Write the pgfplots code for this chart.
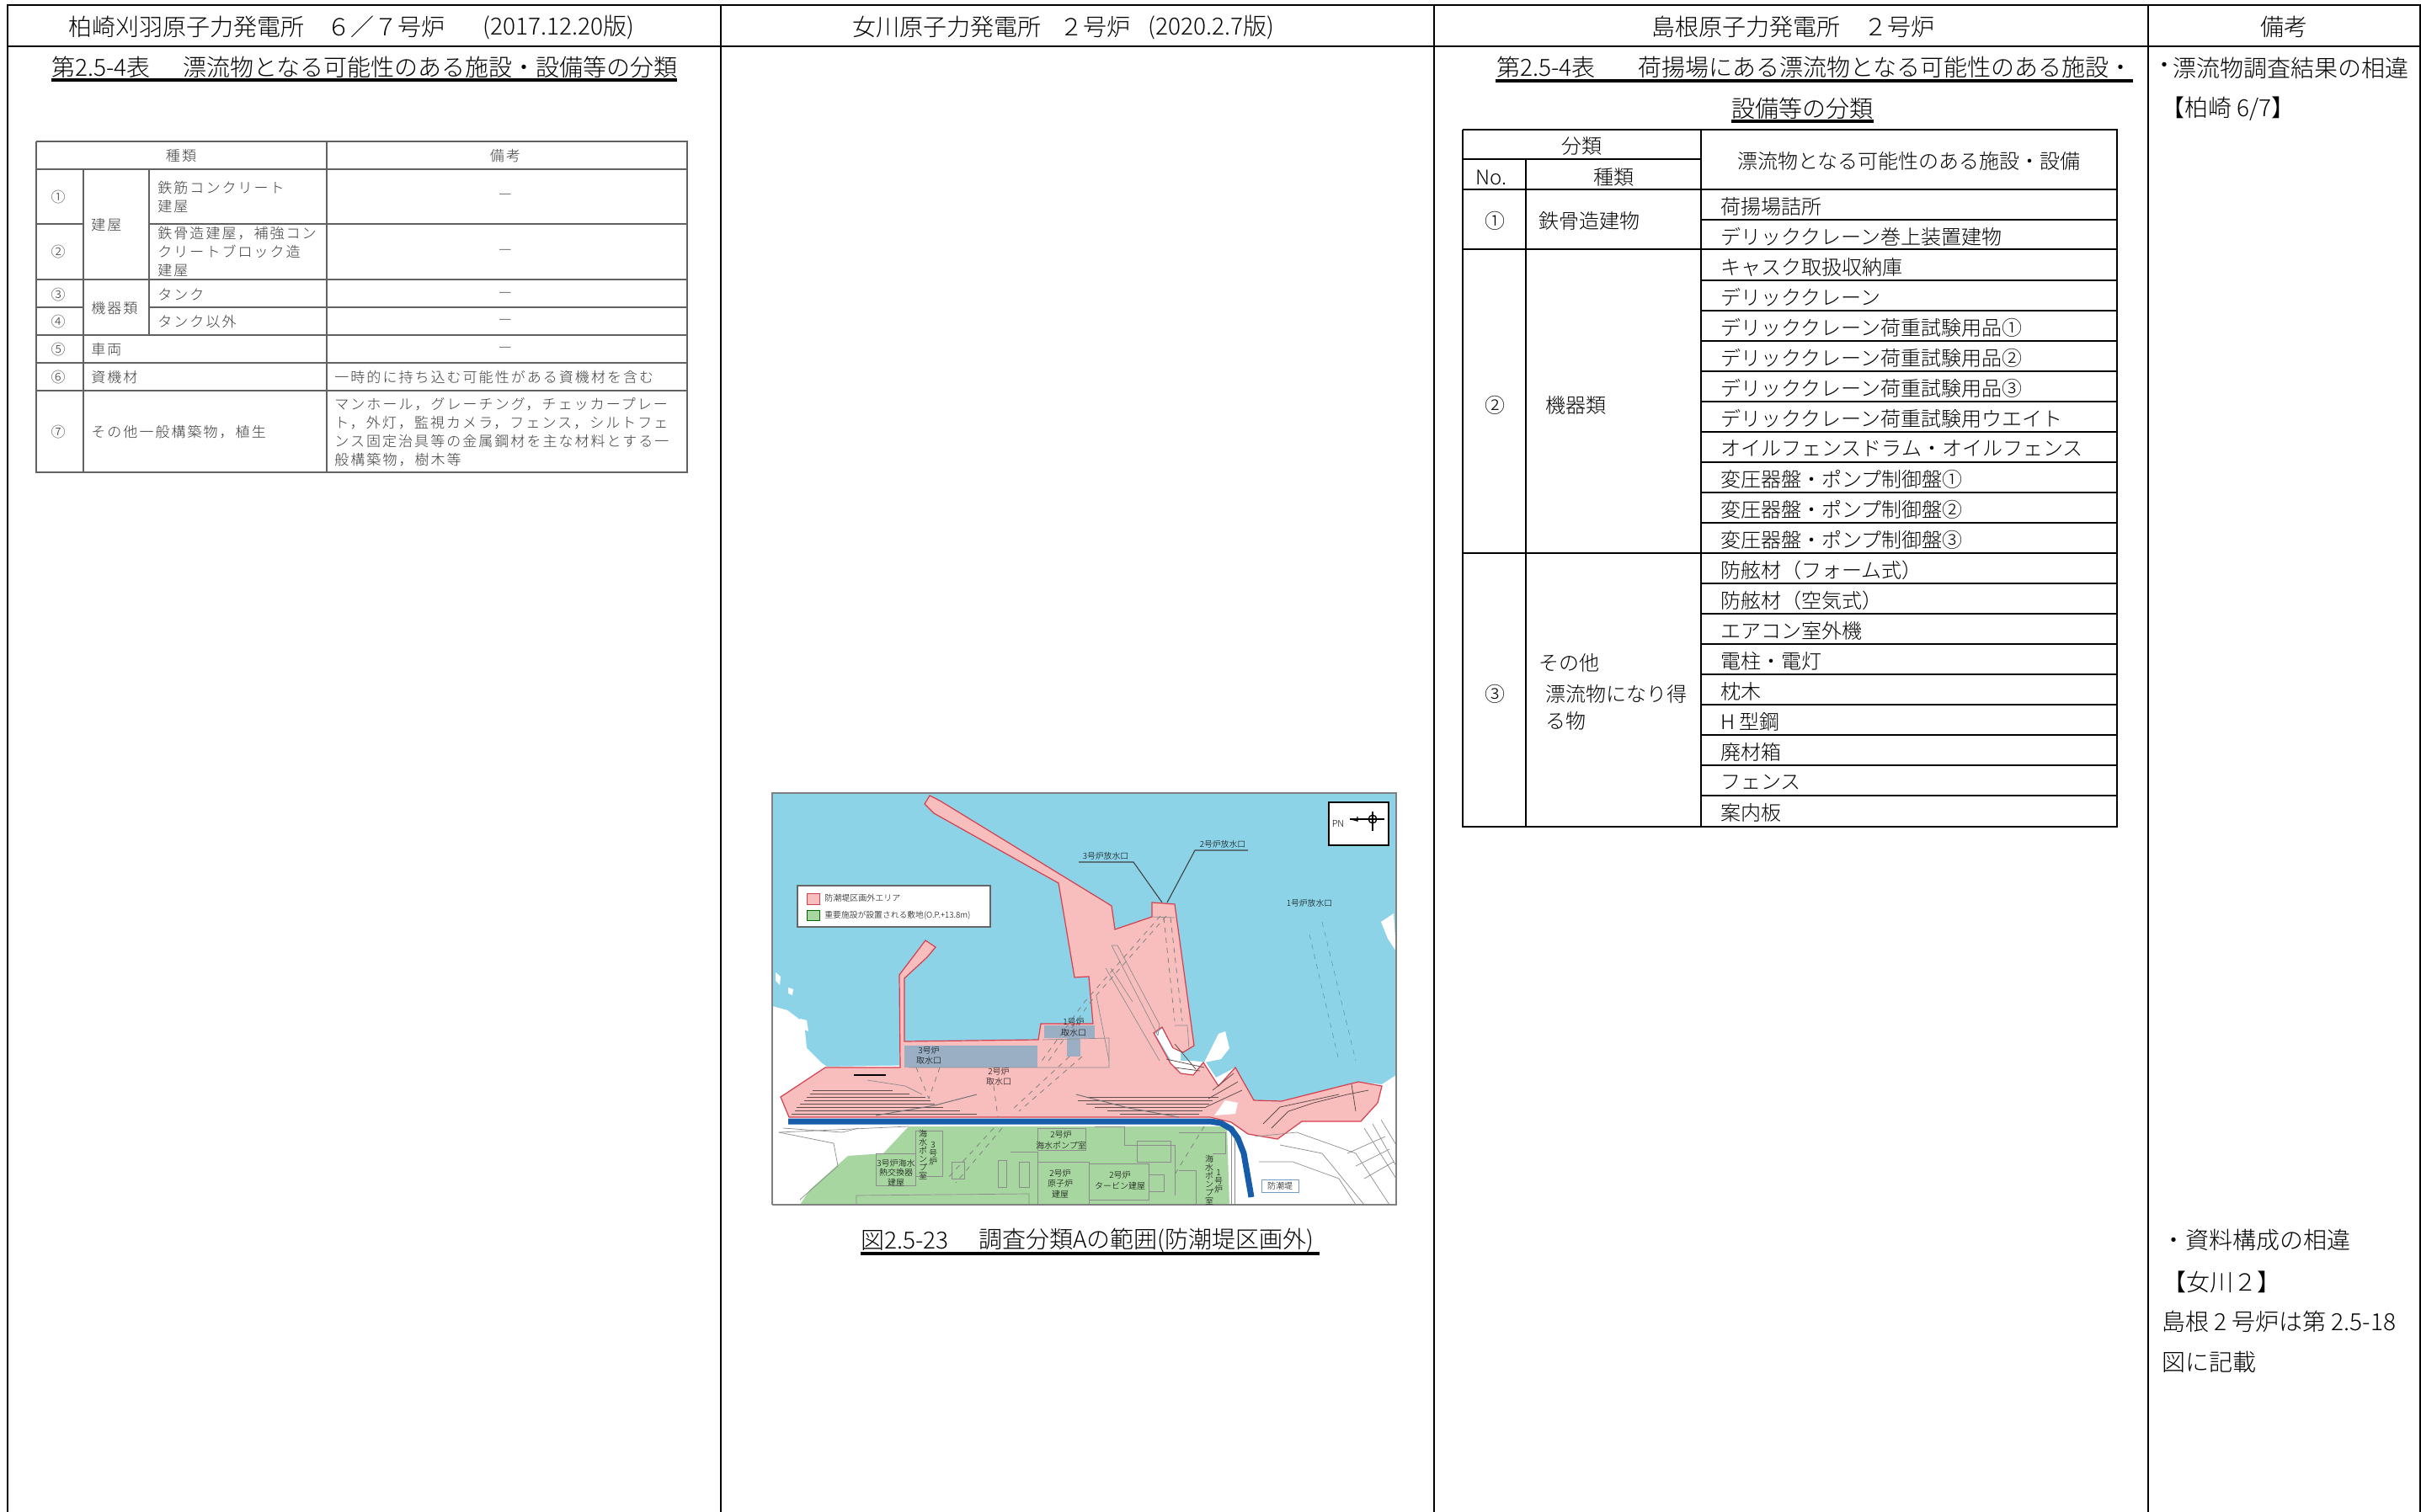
\documentclass[border=0pt]{standalone}
\usepackage{fontspec}
\setmainfont{Noto Sans CJK JP Light}
\newfontfamily\lsfont[LetterSpace=12]{Noto Sans CJK JP Light}
\usepackage{pgfplots}
\pgfplotsset{compat=1.18}
\definecolor{sea}{RGB}{141,211,232}
\definecolor{pinkf}{RGB}{248,190,190}
\definecolor{pinke}{RGB}{214,62,76}
\definecolor{greenf}{RGB}{167,214,160}
\definecolor{intake}{RGB}{154,175,196}
\definecolor{wall}{RGB}{22,92,168}
\definecolor{tg}{RGB}{60,60,60}
\newcommand\Line[2]{\addplot[#1] coordinates {#2};}
\newcommand\Poly[2]{\addplot[#1] coordinates {#2} --cycle;}
\newcommand\Tx[5]{\node[anchor=#1,inner sep=0pt] at (axis cs:#2,#3) {\fontsize{#4}{#4}\selectfont #5};}
\newcommand\Ts[4]{\node[anchor=#1,inner sep=0pt,text=tg] at (axis cs:#2,#3) {\fontsize{8.5}{8.5}\lsfont #4};}
\newcommand\Tm[5]{\node[anchor=center,inner sep=0pt,align=center,text=#4] at (axis cs:#1,#2) {\fontsize{#3}{#3}\selectfont #5};}
\begin{document}
\begin{tikzpicture}
\begin{axis}[scale only axis,width=1437.5pt,height=898pt,xmin=0,xmax=2875,ymin=0,ymax=1796,y dir=reverse,hide axis,
 unbounded coords=jump,
 blk/.style={black,line width=1.15pt},
 ul/.style={black,line width=1.6pt},
 tb/.style={black,line width=1.4pt},
 lt/.style={black!62,line width=1pt},
 gl/.style={black!45,line width=.35pt},
 dsh/.style={black!50,line width=.4pt,dashed},
 ht/.style={black!60!pinkf,line width=.4pt}]
\Poly{fill=white,draw=none}{(0,0)(2875,0)(2875,1796)(0,1796)}
% page frame
\Line{blk}{(9,1796)(9,6)(2874,6)(2874,1796)}
\Line{blk}{(9,55)(2874,55)}
\Line{blk}{(856,6)(856,1796)}
\Line{blk}{(1703,6)(1703,1796)}
\Line{blk}{(2551,6)(2551,1796)}
% headers
\Tx{west}{81}{32}{14}{柏崎刈羽原子力発電所}
\Tx{west}{388}{32}{14}{６／７号炉}
\Tx{west}{573}{32}{14}{(2017.12.20版)}
\Tx{west}{1012}{32}{14}{女川原子力発電所}
\Tx{west}{1258}{32}{14}{２号炉}
\Tx{west}{1363}{32}{14}{(2020.2.7版)}
\Tx{west}{1961}{32}{14}{島根原子力発電所}
\Tx{west}{2213}{32}{14}{２号炉}
\Tx{center}{2712}{32}{14}{備考}
% left title
\Tx{west}{61}{80}{14}{第2.5-4表}
\Tx{west}{217}{80}{14}{漂流物となる可能性のある施設・設備等の分類}
\Line{ul}{(61,95)(804,95)}
% left table
\Line{lt}{(43,168)(816,168)(816,561)(43,561)(43,168)}
\Line{lt}{(43,201)(816,201)}
\Line{lt}{(43,266)(99,266)}
\Line{lt}{(177,266)(816,266)}
\Line{lt}{(43,332)(816,332)}
\Line{lt}{(43,365)(99,365)}
\Line{lt}{(177,365)(816,365)}
\Line{lt}{(43,398)(816,398)}
\Line{lt}{(43,431)(816,431)}
\Line{lt}{(43,464)(816,464)}
\Line{lt}{(99,201)(99,561)}
\Line{lt}{(177,201)(177,398)}
\Line{lt}{(388,168)(388,561)}
\Ts{center}{215}{185}{種類}
\Ts{center}{600}{185}{備考}
\Ts{center}{69}{234}{①}
\Ts{center}{69}{299}{②}
\Ts{center}{69}{350}{③}
\Ts{center}{69}{382}{④}
\Ts{center}{69}{415}{⑤}
\Ts{center}{69}{448}{⑥}
\Ts{center}{69}{513}{⑦}
\Ts{west}{108}{267}{建屋}
\Ts{west}{108}{366}{機器類}
\Ts{west}{108}{415}{車両}
\Ts{west}{108}{448}{資機材}
\Ts{west}{108}{513}{その他一般構築物，植生}
\Ts{west}{187}{223}{鉄筋コンクリート}
\Ts{west}{187}{245}{建屋}
\Ts{west}{187}{277}{鉄骨造建屋，補強コン}
\Ts{west}{187}{299}{クリートブロック造}
\Ts{west}{187}{321}{建屋}
\Ts{west}{187}{350}{タンク}
\Ts{west}{187}{382}{タンク以外}
\Ts{center}{600}{233}{—}
\Ts{center}{600}{299}{—}
\Ts{center}{600}{350}{—}
\Ts{center}{600}{382}{—}
\Ts{center}{600}{415}{—}
\Ts{west}{397}{448}{一時的に持ち込む可能性がある資機材を含む}
\Ts{west}{397}{480}{マンホール，グレーチング，チェッカープレー}
\Ts{west}{397}{502}{ト，外灯，監視カメラ，フェンス，シルトフェ}
\Ts{west}{397}{524}{ンス固定治具等の金属鋼材を主な材料とする一}
\Ts{west}{397}{546}{般構築物，樹木等}
% map: sea and land
\Poly{fill=sea,draw=none}{(917,942)(1658,942)(1658,1431)(917,1431)}
\Poly{fill=white,draw=none}{(917,1195)(935,1200)(955,1215)(958,1245)(975,1262)(982,1267)(1417,1260)(1432,1262)(1444,1280)(1467,1268)(1489,1307)(1522,1308)(1597,1290)(1611,1285)(1641,1288)(1658,1277)(1658,1431)(917,1431)}
\Poly{fill=white,draw=none}{(921,1155)(927,1160)(926,1170)(921,1165)}
\Poly{fill=white,draw=none}{(936,1173)(942,1175)(941,1182)(936,1180)}
\Poly{fill=white,draw=none}{(950,1210)(958,1212)(960,1225)(953,1222)}
\Poly{fill=white,draw=none}{(1447,1228)(1455,1225)(1460,1245)(1450,1258)(1430,1262)}
\Poly{fill=white,draw=none}{(1640,1095)(1655,1085)(1658,1130)(1648,1115)}
\Line{sea!70!black,line width=.3pt,dashed}{(1570,1095)(1610,1260)}
\Line{sea!70!black,line width=.3pt,dashed}{(1555,1110)(1590,1260)}
% pink area
\Poly{fill=pinkf,draw=pinke,line width=.6pt}{(927,1303)(980,1268)(1069,1268)(1068,1158)(1099,1117)(1111,1125)(1101,1137)(1074,1162)(1074,1237)(1233,1235)(1236,1216)(1298,1216)(1293,1160)(1276,1161)(1257,1049)(1109,966)(1098,955)(1104,945)(1116,951)(1320,1076)(1324,1104)(1368,1089)(1368,1072)(1395,1074)(1418,1242)(1405,1250)(1393,1245)(1380,1220)(1370,1227)(1390,1263)(1402,1275)(1417,1277)(1429,1262)(1447,1290)(1467,1268)(1489,1307)(1522,1308)(1601,1288)(1613,1285)(1641,1290)(1636,1310)(1616,1332)(1546,1332)(1517,1353)(1482,1347)(1462,1333)(1437,1327)(937,1327)}
\Poly{fill=white,draw=none}{(1455,1307)(1470,1310)(1467,1323)(1442,1325)}
\Poly{fill=white,draw=none}{(1372,1228)(1380,1222)(1392,1245)(1402,1250)(1402,1270)(1392,1262)}
\Poly{fill=intake,draw=none}{(1074,1242)(1232,1242)(1232,1268)(1074,1268)}
\Poly{fill=intake,draw=none}{(1240,1218)(1300,1218)(1300,1233)(1240,1233)}
\Poly{fill=intake,draw=none}{(1267,1233)(1283,1233)(1283,1255)(1267,1255)}
% pink inner lines
\Line{gl}{(1320,1123)(1327,1123)(1377,1217)(1375,1230)}
\Line{gl}{(1320,1123)(1375,1230)}
\Line{gl}{(1313,1150)(1377,1260)}
\Line{gl}{(1302,1183)(1317,1260)}
\Line{gl}{(1319,1150)(1345,1190)}
\Line{gl}{(1079,1268)(1317,1268)(1317,1233)(1238,1235)}
\Line{gl}{(1368,1089)(1395,1090)}
\Line{gl}{(1395,1218)(1410,1218)(1412,1245)}
\Line{dsh}{(1385,1088)(1295,1190)(1243,1263)}
\Line{dsh}{(1378,1088)(1288,1190)(1235,1263)}
\Line{dsh}{(1382,1090)(1395,1213)}
\Line{dsh}{(1390,1090)(1404,1213)}
\Line{dsh}{(1088,1268)(1103,1305)}
\Line{dsh}{(1116,1268)(1103,1305)}
\Line{dsh}{(1270,1255)(1200,1320)}
\Line{dsh}{(1285,1255)(1210,1320)}
\Line{dsh}{(1180,1290)(1185,1327)}
\Line{ht}{(965,1295)(1060,1295)(nan,nan)(962,1299)(1080,1299)(nan,nan)(958,1303)(1099,1303)(nan,nan)(955,1307)(1105,1307)(nan,nan)(950,1311)(1110,1311)(nan,nan)(946,1315)(1120,1315)(nan,nan)(944,1319)(1140,1319)(nan,nan)(940,1323)(1160,1323)}
\Line{ht}{(1290,1303)(1447,1303)(nan,nan)(1280,1307)(1440,1307)(nan,nan)(1290,1311)(1436,1311)(nan,nan)(1300,1315)(1432,1315)(nan,nan)(1315,1319)(1428,1319)(nan,nan)(1330,1323)(1424,1323)}
\Line{ht}{(1395,1240)(1420,1270)(nan,nan)(1385,1258)(1430,1268)(nan,nan)(1395,1268)(1425,1272)}
\Line{ht}{(1440,1295)(1465,1275)(nan,nan)(1435,1305)(1470,1285)(nan,nan)(1432,1315)(1475,1295)}
\Line{black!55,line width=.5pt}{(1160,1300)(1110,1313)(1040,1325)}
\Line{black!55,line width=.5pt}{(1278,1300)(1340,1316)(1400,1327)}
\Line{black,line width=.6pt}{(1014,1277)(1052,1277)}
\Line{gl}{(1030,1283)(1075,1290)(1095,1300)}
\Line{ht}{(1510,1340)(1530,1320)(1560,1310)(1600,1300)(1625,1295)}
\Line{ht}{(1500,1335)(1520,1315)(1590,1300)}
\Line{ht}{(1605,1288)(1610,1320)}
% green
\Poly{fill=greenf,draw=none}{(950,1431)(962,1413)(1007,1373)(1049,1370)(1079,1338)(1457,1338)(1460,1431)}
\Line{gl}{(1232,1431)(1232,1380)(1293,1380)(1293,1431)}
\Line{gl}{(1293,1382)(1364,1382)(1364,1425)(1293,1425)}
\Line{gl}{(1232,1366)(1232,1340)(1289,1340)(1289,1366)(1232,1366)}
\Line{gl}{(1087,1343)(1119,1343)(1119,1397)(1087,1397)(1087,1343)}
\Line{gl}{(1040,1370)(1087,1370)(1087,1408)(1040,1408)(1040,1370)}
\Line{gl}{(1017,1431)(1017,1420)(1222,1418)(1222,1431)}
\Line{gl}{(1130,1380)(1145,1380)(1145,1400)(1130,1400)(1130,1380)}
\Line{gl}{(1185,1378)(1195,1378)(1195,1410)(1185,1410)(1185,1378)}
\Line{gl}{(1200,1368)(1232,1368)(1232,1385)}
\Line{gl}{(1210,1380)(1222,1380)(1222,1410)(1210,1410)(1210,1380)}
\Line{gl}{(1300,1338)(1335,1338)(1335,1360)(1395,1360)(1395,1420)}
\Line{gl}{(1350,1355)(1390,1355)(1390,1380)(1350,1380)(1350,1355)}
\Line{gl}{(1400,1345)(1455,1345)(1455,1370)(1440,1370)}
\Line{gl}{(1364,1395)(1382,1395)(1382,1415)(1364,1415)}
\Line{gl}{(1400,1390)(1420,1390)(1420,1431)}
\Line{dsh}{(1180,1340)(1125,1400)}
\Line{dsh}{(1190,1340)(1135,1405)}
\Line{dsh}{(1430,1338)(1395,1395)}
% white land lines
\Line{gl}{(925,1345)(1079,1338)}
\Line{gl}{(925,1345)(990,1358)(995,1385)(950,1425)}
\Line{gl}{(930,1340)(1000,1345)(1020,1340)}
\Line{gl}{(1490,1350)(1540,1345)(1610,1370)(1650,1431)}
\Line{gl}{(1495,1380)(1535,1380)(1590,1400)(1610,1431)}
\Line{gl}{(1520,1360)(1570,1370)(1620,1431)}
\Line{gl}{(1620,1340)(1658,1400)}
\Line{gl}{(1630,1335)(1658,1385)}
\Line{gl}{(1640,1330)(1658,1360)}
\Line{gl}{(1600,1370)(1645,1350)(nan,nan)(1610,1385)(1650,1365)(nan,nan)(1620,1400)(1655,1380)}
\Line{gl}{(1462,1345)(1462,1431)(nan,nan)(1466,1345)(1466,1431)}
% seawall
\Line{wall,line width=3.5pt}{(936,1332)(1437,1332)(1450,1334)(1462,1341)(1470,1352)(1477,1370)(1486,1422)}
% map frame
\Line{black!50,line width=.7pt}{(917,1431)(917,942)(1658,942)(1658,1431)(917,1431)}
% map legend
\Poly{fill=white,draw=black!60,line width=.6pt}{(947,1052)(1176,1052)(1176,1101)(947,1101)}
\Poly{fill=pinkf,draw=pinke,line width=.4pt}{(958,1061)(973,1061)(973,1074)(958,1074)}
\Poly{fill=greenf,draw=black!60!green,line width=.4pt}{(958,1081)(973,1081)(973,1093)(958,1093)}
\Tx{west}{979}{1067}{5}{防潮堤区画外エリア}
\Tx{west}{979}{1087}{4.9}{重要施設が設置される敷地(O.P.+13.8m)}
% compass
\Poly{fill=white,draw=black,line width=.7pt}{(1578,953)(1649,953)(1649,1004)(1578,1004)}
\Tx{center}{1589}{978}{5.5}{PN}
\Line{black,line width=.7pt}{(1603,973)(1644,973)}
\Line{black,line width=.7pt}{(1630,964)(1630,987)}
\addplot[black,line width=.7pt,only marks,mark=o,mark size=2.4pt] coordinates {(1630,973)};
\Line{black,line width=.7pt}{(1612,970)(1612,975)(1605,973)}
% map labels
\Line{black!75,line width=.55pt}{(1281,1024)(1346,1024)(1380,1072)}
\Line{black!75,line width=.55pt}{(1482,1010)(1419,1010)(1386,1072)}
\Tm{1313}{1017}{4.9}{black}{3号炉放水口}
\Tm{1452}{1003}{4.9}{black}{2号炉放水口}
\Tm{1555}{1073}{4.9}{black}{1号炉放水口}
\node[inner sep=0pt,align=center,font=\fontsize{5}{6.3}\selectfont] at (axis cs:1275,1220) {1号炉\\取水口};
\node[inner sep=0pt,align=center,font=\fontsize{5}{6}\selectfont] at (axis cs:1103,1254) {3号炉\\取水口};
\node[inner sep=0pt,align=center,font=\fontsize{5}{6}\selectfont] at (axis cs:1186,1279) {2号炉\\取水口};
\node[inner sep=0pt,align=center,font=\fontsize{5}{6.3}\selectfont] at (axis cs:1260,1354) {2号炉\\海水ポンプ室};
\node[inner sep=0pt,align=center,font=\fontsize{5}{5.8}\selectfont] at (axis cs:1064,1393) {3号炉海水\\熱交換器\\建屋};
\node[inner sep=0pt,align=center,font=\fontsize{5}{6.3}\selectfont] at (axis cs:1259,1406) {2号炉\\原子炉\\建屋};
\node[inner sep=0pt,align=center,font=\fontsize{5}{6.5}\selectfont] at (axis cs:1330,1402) {2号炉\\タービン建屋};
\node[inner sep=0pt,align=center,font=\fontsize{5}{5}\selectfont] at (axis cs:1096,1372) {海\\水\\ポ\\ン\\プ\\室};
\node[inner sep=0pt,align=center,font=\fontsize{5}{5}\selectfont] at (axis cs:1108,1370) {3\\号\\炉};
\node[inner sep=0pt,align=center,font=\fontsize{5}{5}\selectfont] at (axis cs:1436,1402) {海\\水\\ポ\\ン\\プ\\室};
\node[inner sep=0pt,align=center,font=\fontsize{5}{5}\selectfont] at (axis cs:1447,1403) {1\\号\\炉};
\Poly{fill=white,draw=wall!60,line width=.5pt}{(1498,1401)(1542,1401)(1542,1416)(1498,1416)}
\Tm{1520}{1409}{5}{black}{防潮堤}
% caption
\Tx{west}{1022}{1473}{14}{図2.5-23}
\Tx{west}{1162}{1473}{14}{調査分類Aの範囲(防潮堤区画外)}
\Line{ul}{(1022,1489)(1567,1489)}
% right title
\Tx{west}{1777}{80}{14}{第2.5-4表}
\Tx{west}{1945}{80}{14}{荷揚場にある漂流物となる可能性のある施設・}
\Line{ul}{(1776,96)(2533,96)}
\Tx{center}{2140}{129}{14}{設備等の分類}
\Line{ul}{(2056,144)(2225,144)}
% right table
\Line{tb}{(1737,154)(2514,154)(2514,982)(1737,982)(1737,154)}
\Line{tb}{(2020,154)(2020,982)}
\Line{tb}{(1812,189)(1812,982)}
\Line{tb}{(1737,189)(2020,189)}
\Line{tb}{(1737,225)(2514,225)}
\Line{tb}{(2020,261)(2514,261)}
\Line{tb}{(1737,296)(2514,296)}
\Line{tb}{(2020,333)(2514,333)}
\Line{tb}{(2020,369)(2514,369)}
\Line{tb}{(2020,405)(2514,405)}
\Line{tb}{(2020,441)(2514,441)}
\Line{tb}{(2020,477)(2514,477)}
\Line{tb}{(2020,513)(2514,513)}
\Line{tb}{(2020,549)(2514,549)}
\Line{tb}{(2020,585)(2514,585)}
\Line{tb}{(2020,621)(2514,621)}
\Line{tb}{(1737,657)(2514,657)}
\Line{tb}{(2020,693)(2514,693)}
\Line{tb}{(2020,729)(2514,729)}
\Line{tb}{(2020,765)(2514,765)}
\Line{tb}{(2020,801)(2514,801)}
\Line{tb}{(2020,837)(2514,837)}
\Line{tb}{(2020,873)(2514,873)}
\Line{tb}{(2020,909)(2514,909)}
\Line{tb}{(2020,945)(2514,945)}
\Tx{center}{1878}{174}{12}{分類}
\Tx{center}{1771}{211}{12}{No.}
\Tx{center}{1916}{211}{12}{種類}
\Tx{center}{2267}{191}{12}{漂流物となる可能性のある施設・設備}
\Tx{center}{1775}{262}{12}{①}
\Tx{center}{1775}{481}{12}{②}
\Tx{center}{1775}{824}{12}{③}
\Tx{west}{1827}{262}{12}{鉄骨造建物}
\Tx{west}{1835}{481}{12}{機器類}
\Tx{west}{1827}{787}{12}{その他}
\Tx{west}{1835}{824}{12}{漂流物になり得}
\Tx{west}{1835}{856}{12}{る物}
\Tx{west}{2043}{245}{12}{荷揚場詰所}
\Tx{west}{2043}{281}{12}{デリッククレーン巻上装置建物}
\Tx{west}{2043}{317}{12}{キャスク取扱収納庫}
\Tx{west}{2043}{353}{12}{デリッククレーン}
\Tx{west}{2043}{389}{12}{デリッククレーン荷重試験用品①}
\Tx{west}{2043}{425}{12}{デリッククレーン荷重試験用品②}
\Tx{west}{2043}{461}{12}{デリッククレーン荷重試験用品③}
\Tx{west}{2043}{497}{12}{デリッククレーン荷重試験用ウエイト}
\Tx{west}{2043}{533}{12}{オイルフェンスドラム・オイルフェンス}
\Tx{west}{2043}{569}{12}{変圧器盤・ポンプ制御盤①}
\Tx{west}{2043}{605}{12}{変圧器盤・ポンプ制御盤②}
\Tx{west}{2043}{641}{12}{変圧器盤・ポンプ制御盤③}
\Tx{west}{2043}{677}{12}{防舷材（フォーム式）}
\Tx{west}{2043}{713}{12}{防舷材（空気式）}
\Tx{west}{2043}{749}{12}{エアコン室外機}
\Tx{west}{2043}{785}{12}{電柱・電灯}
\Tx{west}{2043}{821}{12}{枕木}
\Tx{west}{2043}{857}{12}{H 型鋼}
\Tx{west}{2043}{893}{12}{廃材箱}
\Tx{west}{2043}{929}{12}{フェンス}
\Tx{west}{2043}{965}{12}{案内板}
% notes
\Tx{center}{2570}{81}{14}{・}
\Tx{west}{2580}{81}{14}{漂流物調査結果の相違}
\Tx{west}{2566}{129}{14}{【柏崎 6/7】}
\Tx{west}{2567}{1473}{14}{・資料構成の相違}
\Tx{west}{2568}{1523}{14}{【女川２】}
\Tx{west}{2567}{1570}{14}{島根 2 号炉は第 2.5-18}
\Tx{west}{2567}{1618}{14}{図に記載}
\end{axis}
\end{tikzpicture}
\end{document}
